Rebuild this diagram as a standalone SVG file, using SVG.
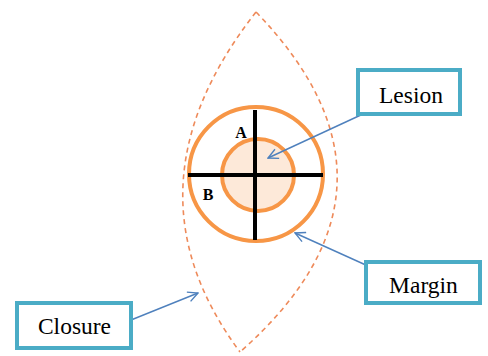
<svg xmlns="http://www.w3.org/2000/svg" width="488" height="356" viewBox="0 0 488 356">
<style>
.box{fill:#fff;stroke:#4BACC6;stroke-width:4}
.lbl{font-family:"Liberation Serif",serif;font-size:23.5px;fill:#000;text-anchor:middle}
.ab{font-family:"Liberation Serif",serif;font-size:16px;font-weight:bold;fill:#000;text-anchor:middle}
.arr{fill:none;stroke:#4F81BD;stroke-width:1.4;marker-end:url(#ah)}
</style>
<defs>
<marker id="ah" viewBox="0 0 12 12" refX="11" refY="6" markerWidth="12" markerHeight="12" markerUnits="userSpaceOnUse" orient="auto">
<path d="M1,1 L11,6 L1,11" fill="none" stroke="#4F81BD" stroke-width="1.4"/>
</marker>
</defs>
<g id="closure-outline">
<path d="M256,12 Q118,188 240,352" fill="none" stroke="#EE8A5A" stroke-width="1.6" stroke-dasharray="5,4"/>
<path d="M256,12 Q426,188 240,352" fill="none" stroke="#EE8A5A" stroke-width="1.6" stroke-dasharray="5,4"/>
</g>
<g id="margin">
<circle cx="256" cy="174" r="67" fill="#fff" stroke="#F79646" stroke-width="4"/>
</g>
<g id="lesion">
<circle cx="258" cy="175" r="36" fill="#FDE9D9" stroke="#F79646" stroke-width="4"/>
</g>
<g id="cross">
<line x1="188" y1="175" x2="323" y2="175" stroke="#000" stroke-width="4"/>
<line x1="255" y1="110" x2="255" y2="240" stroke="#000" stroke-width="4"/>
<text class="ab" x="241" y="138">A</text>
<text class="ab" x="208" y="200">B</text>
</g>
<g id="connectors">
<path class="arr" d="M363,114 L268,158"/>
<path class="arr" d="M368,266 L295,233"/>
<path class="arr" d="M131,320 L198,293"/>
</g>
<g id="box-lesion">
<rect class="box" x="358" y="70" width="102" height="44"/>
<text class="lbl" x="411" y="103">Lesion</text>
</g>
<g id="box-margin">
<rect class="box" x="366" y="262" width="114" height="41"/>
<text class="lbl" x="423.5" y="293">Margin</text>
</g>
<g id="box-closure">
<rect class="box" x="17" y="303" width="114" height="45"/>
<text class="lbl" x="74.5" y="334">Closure</text>
</g>
</svg>
